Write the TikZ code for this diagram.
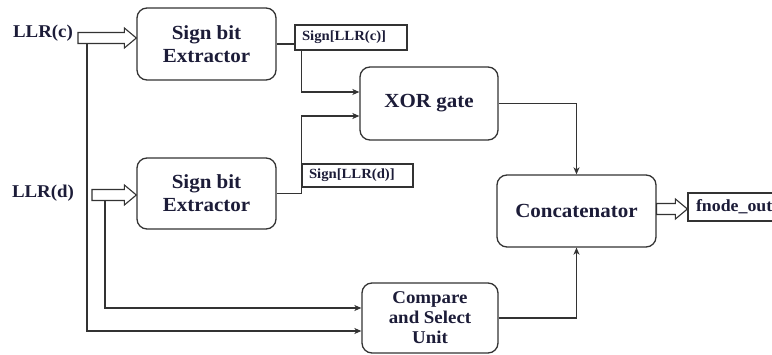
\documentclass[tikz,border=0pt]{standalone}
\usepackage{fontspec}
\setmainfont{Liberation Serif}[FakeStretch=1.05]
\usetikzlibrary{arrows.meta,calc}
\definecolor{txt}{HTML}{1C1C38}
\definecolor{ln}{HTML}{333333}
\newcommand\hollowarrow[2]{%
  \draw[hollow] let \p1=#1, \p2=#2 in
    (\x1,\y1+5.5pt) -- (\x2-12pt,\y1+5.5pt) -- (\x2-12pt,\y1+10pt) -- (\x2,\y1)
    -- (\x2-12pt,\y1-10pt) -- (\x2-12pt,\y1-5.5pt) -- (\x1,\y1-5.5pt) -- cycle;}
\begin{document}
\begin{tikzpicture}[x=1pt,y=-1pt,
  box/.style={draw=ln, line width=1.3pt, rounded corners=10pt, text=txt,
    font=\bfseries\fontsize{20}{23}\selectfont, align=center, inner sep=0pt},
  lbl/.style={draw=ln, line width=1.2pt, text=txt,
    font=\bfseries\fontsize{14}{16}\selectfont, align=left, inner ysep=0pt},
  intext/.style={text=txt, font=\bfseries\fontsize{18}{20}\selectfont, inner sep=0pt},
  conn/.style={draw=ln, line width=1.1pt},
  arr/.style={conn, -{Stealth[length=7pt,width=6pt,inset=2pt]}},
  hollow/.style={draw=ln, line width=1.1pt, fill=white, line join=miter}]
\useasboundingbox (0,0) rectangle (772,355);
\clip (0,0) rectangle (772,355);

% blocks
\node[box, minimum width=139pt, minimum height=72pt] (ext1) at (206.5,44) {Sign bit\\Extractor};
\node[box, minimum width=139pt, minimum height=71pt] (ext2) at (206.5,193.5) {Sign bit\\Extractor};
\node[box, minimum width=138pt, minimum height=73pt] (xor) at (429,103.5) {XOR gate};
\node[box, minimum width=159pt, minimum height=72pt] (conc) at (576.5,211) {Concatenator};
\node[box, minimum width=136pt, minimum height=70pt,
      font=\bfseries\fontsize{18}{20}\selectfont] (cmp) at (430,318) {Compare\\and Select\\Unit};

% labels
\node[lbl, text width=98pt, inner xsep=7pt, minimum height=25pt] (sc) at (351,37.5) {Sign[LLR(c)]};
\node[lbl, text width=97pt, inner xsep=7pt, minimum height=23pt] (sd) at (357.5,175.5) {Sign[LLR(d)]};
\node[lbl, text width=90pt, inner xsep=8pt, minimum height=28pt,
      font=\bfseries\fontsize{17}{19}\selectfont] (fo) at (741,207) {fnode\_out};

\node[intext] (llrc) at (43,33) {LLR(c)};
\node[intext] (llrd) at (43,193) {LLR(d)};

% coordinates
\coordinate (ac0) at (78,38);
\coordinate (ad0) at (92,195);
\coordinate (vc) at (87,43.5);
\coordinate (vd) at (105,200.5);
\coordinate (fo0) at ($(conc.east)+(0,-2)$);
\coordinate (xin1) at ($(xor.west)+(0,-11.5)$);
\coordinate (xin2) at ($(xor.west)+(0,12.5)$);
\coordinate (cin1) at ($(cmp.west)+(0,-10)$);
\coordinate (cin2) at ($(cmp.west)+(0,13)$);

% connectors
\draw[arr] (vc) |- (cin2);
\draw[arr] (vd) |- (cin1);
\draw[conn] (ext1.east) -- (sc.west |- ext1.east);
\draw[arr] ($(sc.south west)+(7,0)$) |- (xin1);
\draw[arr] (ext2.east) -| (sd.west |- xin2) -- (xin2);
\draw[arr] (xor.east) -| (conc.north);
\draw[arr] (cmp.east) -| (conc.south);

% hollow arrows
\hollowarrow{(ac0)}{(ext1.west |- ac0)}
\hollowarrow{(ad0)}{(ext2.west |- ad0)}
\hollowarrow{(fo0)}{(fo.west |- fo0)}
\end{tikzpicture}
\end{document}
